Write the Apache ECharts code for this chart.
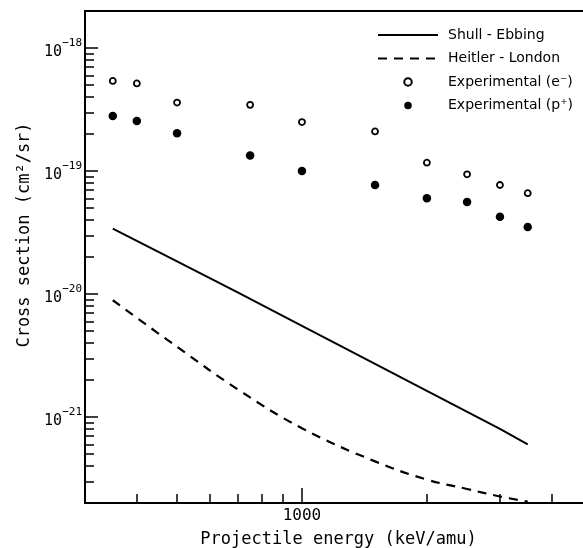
<!DOCTYPE html>
<html><head><meta charset="utf-8">
<script src="https://cdn.jsdelivr.net/npm/echarts@6/dist/echarts.min.js"></script>
<style>html,body{margin:0;padding:0;background:#fff}#c{width:583px;height:548px}</style>
</head><body><div id="c"></div>
<script>
// ---- data ----
const energyExp = [350, 400, 500, 750, 1000, 1500, 2000, 2500, 3000, 3500];
const electronCS = [5.4e-19, 5.15e-19, 3.6e-19, 3.45e-19, 2.5e-19, 2.1e-19, 1.17e-19, 9.4e-20, 7.7e-20, 6.6e-20];
const protonCS = [2.8e-19, 2.55e-19, 2.03e-19, 1.34e-19, 1.0e-19, 7.7e-20, 6.0e-20, 5.6e-20, 4.25e-20, 3.5e-20];
const energyShull = [350, 500, 700, 1000, 1500, 2000, 3000, 3500];
const shullEbbing = [3.4e-20, 1.84e-20, 1.03e-20, 5.5e-21, 2.7e-21, 1.63e-21, 8.0e-22, 6.0e-22];
const energyHeitler = [350, 500, 700, 1000, 1500, 2000, 2500, 3000, 3500];
const heitlerLondon = [8.9e-21, 3.72e-21, 1.68e-21, 8.1e-22, 4.36e-22, 3.1e-22, 2.6e-22, 2.26e-22, 2.05e-22];
const seriesNames = ['Shull - Ebbing', 'Heitler - London', 'Experimental (e\u207B)', 'Experimental (p\u207A)'];
// ---- axes ----
const xRange = [300, 5000];
const yRange = [2e-22, 2e-18];
const xTickMajor = [1000];
const xTickMinor = [400, 500, 600, 700, 800, 900, 2000, 3000, 4000];
const yTickMajor = [1e-21, 1e-20, 1e-19, 1e-18];
const yTickMinorMult = [2, 3, 4, 5, 6, 7, 8, 9];
const xTitle = 'Projectile energy (keV/amu)';
const yTitle = 'Cross section (cm\u00B2/sr)';

const L = Math.log10;
const yMinorLog = [];
for (let d = -22; d <= -18; d++) {
  yTickMinorMult.forEach(m => {
    const v = L(m) + d;
    if (v > L(yRange[0]) + 1e-6 && v < L(yRange[1]) - 1e-6) yMinorLog.push(v);
  });
}
const pair = (xs, ys) => xs.map((x, i) => [x, ys[i]]);
const SANS = 'DejaVu Sans';
const TITLE = 'DejaVu Sans Mono';
const black = '#000';

const overlayX = (ticks, len, label) => ({
  type: 'value', position: 'bottom', offset: 0,
  min: L(xRange[0]), max: L(xRange[1]),
  axisLine: { show: false }, splitLine: { show: false },
  axisTick: { show: true, inside: true, length: len, customValues: ticks.map(L), lineStyle: { color: black, width: 1.5 } },
  axisLabel: label ? { show: true, customValues: ticks.map(L), margin: 5,
    formatter: v => String(Math.round(Math.pow(10, v))),
    fontFamily: TITLE, fontSize: 16, color: black } : { show: false }
});

const lineLegendStyle = { color: 'rgba(0,0,0,0)', borderWidth: 0, borderColor: 'rgba(0,0,0,0)' };

const chart = echarts.init(document.getElementById('c'), null, { renderer: 'canvas' });
chart.setOption({
  animation: false,
  backgroundColor: '#fff',
  grid: { left: 85, top: 11, width: 507, height: 492, containLabel: false, outerBoundsMode: 'none',
    show: true, borderColor: black, borderWidth: 2, backgroundColor: 'transparent' },
  legend: {
    orient: 'vertical', left: 377, top: 28, padding: 0,
    itemWidth: 60, itemHeight: 7.5, itemGap: 9.5,
    data: [
      { name: seriesNames[0], itemStyle: lineLegendStyle },
      { name: seriesNames[1], itemStyle: lineLegendStyle },
      { name: seriesNames[2] },
      { name: seriesNames[3] }
    ],
    textStyle: { fontFamily: SANS, fontSize: 14, color: black, padding: [0, 0, 0, 5] }
  },
  xAxis: [
    { type: 'log', position: 'bottom', min: xRange[0], max: xRange[1],
      axisLine: { show: true, lineStyle: { color: black, width: 2 } },
      axisTick: { show: false }, axisLabel: { show: false }, splitLine: { show: false },
      name: xTitle, nameLocation: 'middle', nameGap: 28,
      nameTextStyle: { fontFamily: TITLE, fontSize: 17, color: black } },
    overlayX(xTickMinor, 9, false),
    overlayX(xTickMajor, 15, true)
  ],
  yAxis: [
    { type: 'log', position: 'left', min: yRange[0], max: yRange[1],
      axisLine: { show: true, lineStyle: { color: black, width: 2 } },
      axisTick: { show: false }, axisLabel: { show: false }, splitLine: { show: false },
      name: yTitle, nameLocation: 'middle', nameGap: 52,
      nameTextStyle: { fontFamily: TITLE, fontSize: 17, color: black, padding: [0, 0, 0, 44] } },
    { type: 'value', position: 'left', offset: 0, min: L(yRange[0]), max: L(yRange[1]),
      axisLine: { show: false }, splitLine: { show: false }, axisLabel: { show: false },
      axisTick: { show: true, inside: true, length: 9, customValues: yMinorLog, lineStyle: { color: black, width: 1.5 } } },
    { type: 'value', position: 'left', offset: 0, min: L(yRange[0]), max: L(yRange[1]),
      axisLine: { show: false }, splitLine: { show: false },
      axisTick: { show: true, inside: true, length: 13, customValues: yTickMajor.map(L), lineStyle: { color: black, width: 1.5 } },
      axisLabel: { show: true, customValues: yTickMajor.map(L), margin: 3,
        formatter: v => '{b|10}{s|\u2212' + Math.abs(Math.round(v)) + '}',
        rich: {
          b: { fontFamily: TITLE, fontSize: 15, lineHeight: 15, padding: [8, 0, 0, 0], color: black },
          s: { fontFamily: TITLE, fontSize: 11, lineHeight: 11, padding: [1, 0, 11, 0], color: black }
        } } }
  ],
  series: [
    { name: seriesNames[0], type: 'line', data: pair(energyShull, shullEbbing), symbol: 'none',
      lineStyle: { color: black, width: 2 }, itemStyle: { color: black } },
    { name: seriesNames[1], type: 'line', data: pair(energyHeitler, heitlerLondon), symbol: 'none', smooth: 0.4,
      lineStyle: { color: black, width: 2.2, type: [9, 7] }, itemStyle: { color: black } },
    { name: seriesNames[2], type: 'scatter', data: pair(energyExp, electronCS), symbol: 'circle', symbolSize: 6,
      itemStyle: { color: '#fff', borderColor: black, borderWidth: 1.8, opacity: 1 } },
    { name: seriesNames[3], type: 'scatter', data: pair(energyExp, protonCS), symbol: 'circle', symbolSize: 8.5,
      itemStyle: { color: black, opacity: 1 } }
  ]
});
</script></body></html>
